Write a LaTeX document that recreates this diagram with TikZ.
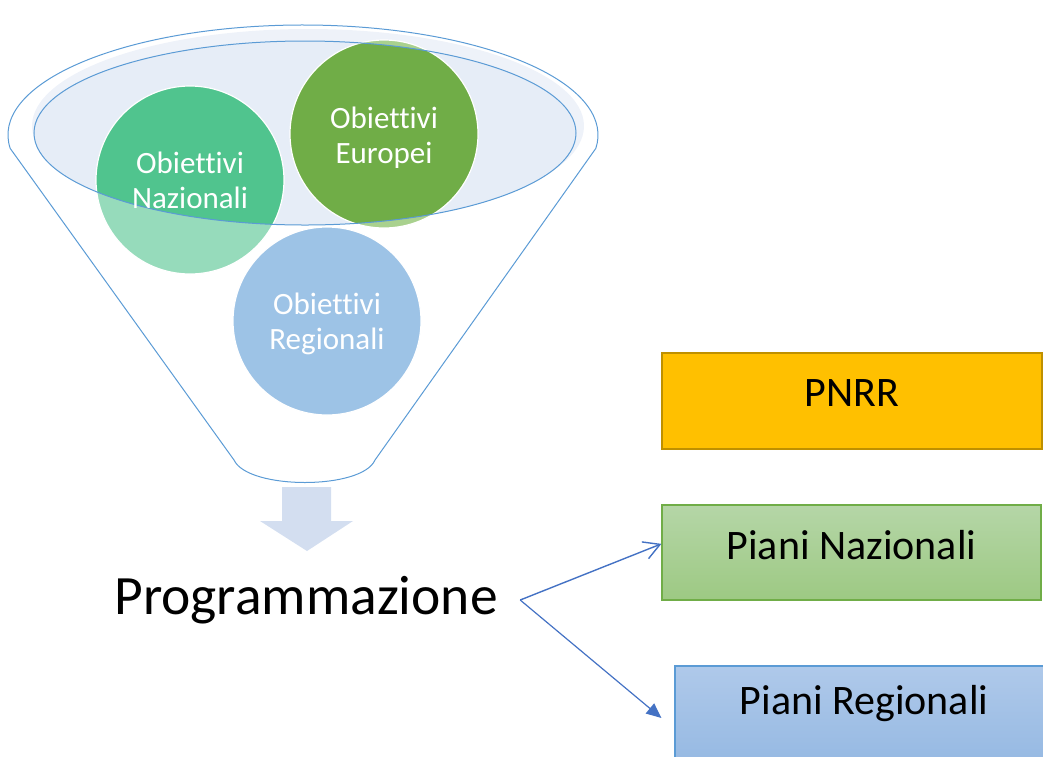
\documentclass[tikz,border=0pt]{standalone}
\usepackage{fontspec}
\setmainfont{Carlito}[Ligatures=NoCommon]
\usetikzlibrary{arrows.meta,calc}
\definecolor{funline}{HTML}{5B9BD5}
\definecolor{funfillA}{HTML}{EEF2F9}
\definecolor{funfillB}{HTML}{E6EDF7}
\definecolor{nazdark}{HTML}{50C48E}
\definecolor{nazlight}{HTML}{96DBBB}
\definecolor{eurdark}{HTML}{70AD47}
\definecolor{eurlight}{HTML}{A9D18E}
\definecolor{regcol}{HTML}{9DC3E6}
\definecolor{downarr}{HTML}{D3DEF0}
\definecolor{pnrrfill}{HTML}{FFC000}
\definecolor{pnrrline}{HTML}{BF9000}
\definecolor{pntop}{HTML}{B5D6A7}
\definecolor{pnbot}{HTML}{9DC983}
\definecolor{pnline}{HTML}{70AD47}
\definecolor{prtop}{HTML}{AFC9EA}
\definecolor{prbot}{HTML}{94B8E2}
\definecolor{prline}{HTML}{5B9BD5}
\definecolor{arrcol}{HTML}{4472C4}
\begin{document}
\begin{tikzpicture}[x=1pt,y=-1pt,
  objnode/.style={circle, minimum size=188pt, inner sep=0pt, draw=white, line width=1.2pt},
  objtext/.style={text=white, align=center, font=\fontsize{31}{35}\selectfont},
  boxnode/.style={rectangle, inner sep=0pt, line width=1.2pt},
  boxtext/.style={font=\fontsize{42}{48}\selectfont},
  conn/.style={draw=arrcol, line width=1.4pt}]
\useasboundingbox (0,0) rectangle (1043,756);
\clip (0,0) rectangle (1043,756);
% funnel top fills
\fill[funfillA] (308,126) ellipse [x radius=276, y radius=97];
\fill[funfillB] (305,133) ellipse [x radius=271, y radius=92];
% circles: light parts outside the funnel mouth
\fill[nazlight] (190,180) circle (94);
\fill[eurlight] (384,134) circle (94);
\begin{scope}
  \clip (305,133) ellipse [x radius=271, y radius=92];
  \fill[nazdark] (190,180) circle (94);
  \fill[eurdark] (384,134) circle (94);
\end{scope}
\node[objnode] (naz) at (190,180) {};
\node[objnode] (eur) at (384,134) {};
\node[objnode, fill=regcol] (reg) at (327,321) {};
% funnel outlines
\draw[funline, line width=1pt] (305,133) ellipse [x radius=271, y radius=92];
\draw[funline, line width=1pt] (10.2,148.4) arc[start angle=173, end angle=367, x radius=295, y radius=110]
  -- (375,460) .. controls (362,490) and (248,490) .. (234,460) -- cycle;
% circle texts
\node[objtext] at (naz) {Obiettivi\\Nazionali};
\node[objtext] at ([yshift=-4pt]eur.center) {Obiettivi\\Europei};
\node[objtext] at ([yshift=-3pt]reg.center) {Obiettivi\\Regionali};
% down arrow
\fill[downarr] (282,487) -- (331,487) -- (331,521) -- (353,521) -- (307,551) -- (260,521) -- (282,521) -- cycle;
% Programmazione
\node[minimum width=428pt, inner sep=0pt, font=\fontsize{55.5}{60}\selectfont] (prog) at (306,600) {Programmazione};
% boxes
\node[boxnode, fill=pnrrfill, draw=pnrrline, minimum width=380pt, minimum height=96pt] (pnrr) at (852,401) {};
\node[boxtext] at (852,393) {PNRR};
\node[boxnode, top color=pntop, bottom color=pnbot, draw=pnline, minimum width=379pt, minimum height=95pt] (pn) at (851.5,552.5) {};
\node[boxtext] at (851.5,545) {Piani Nazionali};
\node[boxnode, top color=prtop, bottom color=prbot, draw=prline, minimum width=380pt, minimum height=104pt] (pr) at (865,718) {};
\node[boxtext] at (864,704) {Piani Regionali};
% connectors
\draw[conn, -{Straight Barb[length=16pt,width=18pt]}] (prog.east) -- ($(pn.north west)!0.41!(pn.south west)$);
\draw[conn, line width=1.2pt, -{Triangle[length=15pt,width=13pt]}] (prog.east) -- ([xshift=-13pt]pr.west);
\end{tikzpicture}
\end{document}
